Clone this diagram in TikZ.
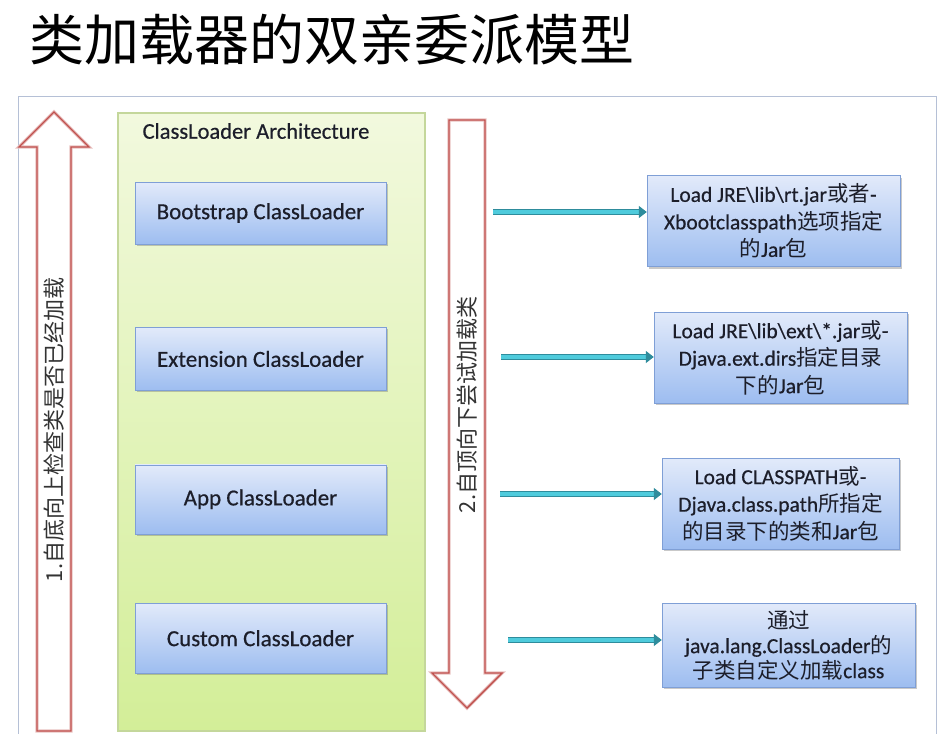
\documentclass[tikz,border=0pt]{standalone}
\usepackage{fontspec}
\setmainfont{Carlito}[FakeBold=0.5]
\newfontfamily\cjk{Noto Sans CJK SC}
\usetikzlibrary{arrows.meta, positioning, shadows}
\definecolor{framegray}{HTML}{B5C0D6}
\definecolor{hollowred}{HTML}{C0504D}
\definecolor{panelline}{HTML}{C4D79B}
\definecolor{paneltop}{HTML}{F2F9DE}
\definecolor{panelbottom}{HTML}{D3EE98}
\definecolor{boxline}{HTML}{7F9FD6}
\definecolor{boxtop}{HTML}{E2EAFA}
\definecolor{boxbottom}{HTML}{9DBDF0}
\definecolor{feeddark}{HTML}{2E8C9C}
\definecolor{feedlight}{HTML}{4FCBDC}
\definecolor{inktext}{HTML}{1C1E2A}

\begin{document}
\begin{tikzpicture}[x=1pt, y=-1pt,
    boxshadow/.style={drop shadow={shadow xshift=1.5pt, shadow yshift=-2pt, opacity=0.35, fill=black!60}},
    loader/.style={draw=boxline, top color=boxtop, bottom color=boxbottom, boxshadow,
        minimum width=251pt, minimum height=62pt, text=inktext, font=\fontsize{23}{26}\selectfont},
    pathbox/.style={draw=boxline, top color=boxtop, bottom color=boxbottom, boxshadow,
        minimum width=253pt, minimum height=91pt, align=center, inner sep=2pt, text=inktext,
        font=\fontsize{21.5}{27.5}\selectfont},
    panel/.style={draw=panelline, line width=1.2pt, top color=paneltop, bottom color=panelbottom,
        minimum width=307pt, minimum height=618pt},
    hollow/.style={draw=hollowred!35, line width=3.2pt, preaction={fill=white}, postaction={draw=hollowred, line width=1.4pt}},
    sidetext/.style={rotate=90, text=black!80, font=\cjk\fontsize{22}{24}\selectfont},
    feed/.style={draw=feeddark, line width=1.2pt, double=feedlight, double distance=3.6pt,
        -{Triangle[length=8pt, width=12pt]}},
    ]
    \useasboundingbox (0,0) rectangle (946,734);
    \fill[white] (0,0) rectangle (946,734);

    \node[anchor=west, inner sep=0pt, font=\cjk\fontsize{55}{60}\selectfont] (title) at (29,40) {类加载器的双亲委派模型};

    \draw[framegray, line width=1pt] (18,734) -- (18,96) -- (936,96) -- (936,734);

    \draw[hollow] (37,731) -- (37,147) -- (19,147) -- (54,112) -- (89,147) -- (71,147) -- (71,731) -- cycle;
    \node[sidetext] (up) at (54,430) {1.自底向上检查类是否已经加载};

    \node[panel] (arch) at (271.5,422) {};
    \node[text=inktext, font=\fontsize{22.5}{26}\selectfont] (archlabel) at (256,131) {ClassLoader Architecture};

    \node[loader] (boot) at (260.5,213) {Bootstrap ClassLoader};
    \node[loader, minimum height=63pt] (ext) [below=83pt of boot] {Extension ClassLoader};
    \node[loader, minimum height=69pt] (app) [below=74pt of ext] {App ClassLoader};
    \node[loader, minimum height=70pt] (cust) [below=69pt of app] {Custom ClassLoader};

    \draw[hollow] (449,120) -- (485,120) -- (485,673) -- (502,673) -- (467,708) -- (432,673) -- (449,673) -- cycle;
    \node[sidetext] (down) at (467,405) {2.自顶向下尝试加载类};

    \node[pathbox] (rt) at (773.5,221) {Load JRE\textbackslash lib\textbackslash rt.jar{\cjk 或者}-\\Xbootclasspath{\cjk 选项指定}\\{\cjk 的}Jar{\cjk 包}};
    \node[pathbox] (extjar) at (780.5,357.5) {Load JRE\textbackslash lib\textbackslash ext\textbackslash *.jar{\cjk 或}-\\Djava.ext.dirs{\cjk 指定目录}\\{\cjk 下的}Jar{\cjk 包}};
    \node[pathbox, minimum width=237pt] (cp) at (780.5,503.5) {Load CLASSPATH{\cjk 或}-\\Djava.class.path{\cjk 所指定}\\{\cjk 的目录下的类和}Jar{\cjk 包}};
    \node[pathbox, minimum height=84pt, font=\fontsize{21.5}{25}\selectfont] (sub) at (788.5,645) {{\cjk 通过}\\java.lang.ClassLoader{\cjk 的}\\{\cjk 子类自定义加载}class};

    \coordinate (f1) at (493,212);
    \coordinate (f2) at (501,357);
    \coordinate (f3) at (500,494);
    \coordinate (f4) at (508,640);
    \draw[feed] (f1) -- (f1 -| rt.west);
    \draw[feed] (f2) -- (f2 -| extjar.west);
    \draw[feed] (f3) -- (f3 -| cp.west);
    \draw[feed] (f4) -- (f4 -| sub.west);
\end{tikzpicture}
\end{document}
